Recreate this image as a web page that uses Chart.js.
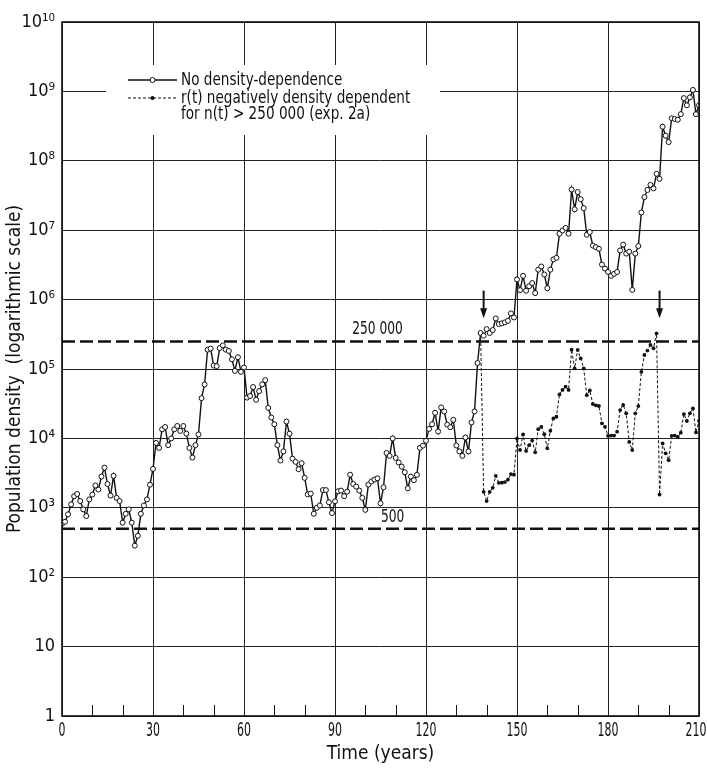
<!DOCTYPE html>
<html>
<head>
<meta charset="utf-8">
<script src="https://cdn.jsdelivr.net/npm/chart.js@4.4.1/dist/chart.umd.min.js"></script>
<style>
  html, body { margin: 0; padding: 0; background: #fff; }
  #wrap { width: 707px; height: 769px; position: relative; }
</style>
</head>
<body>
<div id="wrap"><canvas id="popChart"></canvas></div>
<script>
const FONT = "'DejaVu Sans Condensed', 'Liberation Sans Narrow', sans-serif";

// population density, one value per year, years 0..210 (no density-dependence)
const openDensity = [
  590, 630, 805, 1120, 1470, 1580, 1250, 950, 760, 1320,
  1550, 2100, 1830, 2820, 3790, 2200, 1500, 2890, 1390, 1250,
  610, 820, 950, 610, 285, 395, 820, 1080, 1320, 2150,
  3640, 8600, 7300, 13500, 14600, 8000, 10000, 13500, 15100, 12800,
  15100, 11700, 7300, 5300, 8000, 11400, 38000, 59800, 190000, 197000,
  112000, 110000, 200000, 219000, 190000, 182000, 138000, 94000, 148000, 91000,
  105000, 38700, 40800, 55000, 36000, 48000, 60000, 69000, 27500, 20000,
  16000, 8000, 4800, 6500, 17500, 11700, 5100, 4600, 3600, 4400,
  2700, 1560, 1600, 820, 1000, 1080, 1800, 1800, 1200, 840,
  1240, 1730, 1770, 1470, 1710, 3000, 2200, 2020, 1770, 1390,
  935, 2160, 2400, 2550, 2660, 1160, 1980, 6160, 5600, 10000,
  5240, 4500, 3920, 3250, 1910, 2820, 2500, 2980, 7300, 7860,
  9250, 13700, 16000, 23400, 12600, 28000, 24400, 15800, 14500, 18500,
  7900, 6500, 5600, 10300, 6500, 17000, 24500, 122000, 330000, 302000,
  376000, 330000, 364000, 535000, 444000, 455000, 470000, 495000, 633000, 553000,
  1950000, 1370000, 2200000, 1340000, 1560000, 1730000, 1240000, 2700000, 3000000, 2300000,
  1460000, 2700000, 3800000, 4000000, 8900000, 9900000, 10800000, 8900000, 38600000, 20000000,
  35500000, 28000000, 20800000, 8600000, 9400000, 6000000, 5700000, 5400000, 3200000, 2800000,
  2500000, 2200000, 2350000, 2500000, 5100000, 6200000, 4600000, 4900000, 1380000, 4600000,
  5900000, 18000000, 30000000, 38000000, 45000000, 40000000, 65000000, 55000000, 310000000, 230000000,
  186000000, 410000000, 400000000, 390000000, 470000000, 800000000, 630000000, 820000000, 1050000000, 470000000,
  630000000
];

// r(t) negatively density dependent, years 138..210 (first value shared with the open series)
const ddStartYear = 138;
const ddDensity = [
  330000, 1700, 1250, 1700, 1940, 2890, 2290, 2300, 2350, 2540, 3060, 3000,
  10000, 6800, 11400, 6600, 8000, 9300, 6300, 13600, 14700, 11500,
  7200, 12900, 19400, 20500, 43000, 50000, 55600, 50000, 190000, 102000,
  188000, 142000, 102000, 42000, 49000, 31300, 30000, 29300, 16500, 14700,
  10900, 11000, 11000, 12500, 25600, 30300, 23000, 8900, 6800, 23000,
  29200, 91000, 159000, 184000, 222000, 199000, 327000, 1550, 8500, 6100,
  4860, 10900, 11000, 10500, 12100, 22400, 17800, 23000, 27000, 12200, 17900
];

const xTicks = [0, 30, 60, 90, 120, 150, 180, 210];
const xMinorTicks = [10, 20, 40, 50, 70, 80, 100, 110, 130, 140, 160, 170, 190, 200];
const yTicks = [1, 10, 1e2, 1e3, 1e4, 1e5, 1e6, 1e7, 1e8, 1e9, 1e10];
const thresholds = [500, 250000];
const thresholdLabels = ['500', '250 000'];
const thresholdLabelYears = [109, 104];
const arrowYears = [139, 197];

const legendLines = [
  'No density-dependence',
  'r(t) negatively density dependent',
  'for n(t) > 250 000 (exp. 2a)'
];

const SUP = '⁰¹²³⁴⁵⁶⁷⁸⁹';
function decadeLabel(v) {
  const e = Math.round(Math.log10(v));
  if (e === 0) return '1';
  if (e === 1) return '10';
  return '10' + String(e).split('').map(d => SUP[+d]).join('');
}

// narrow text, the original lettering is much more condensed than any installed font
function narrowText(c, s, x, y, sx) {
  c.save();
  c.translate(x, y);
  c.scale(sx, 1);
  c.fillText(s, 0, 0);
  c.restore();
}

const extras = {
  id: 'extras',
  afterDatasetsDraw(chart) {
    const c = chart.ctx;
    const a = chart.chartArea;
    const xs = chart.scales.x, ys = chart.scales.y;
    c.save();

    // minor ticks on the time axis
    c.strokeStyle = '#111';
    c.lineWidth = 1;
    xMinorTicks.forEach(t => {
      const px = Math.round(xs.getPixelForValue(t)) + 0.5;
      c.beginPath();
      c.moveTo(px, a.bottom);
      c.lineTo(px, a.bottom - 11);
      c.stroke();
    });

    // time axis labels (kept inside the canvas at the right edge)
    c.fillStyle = '#111';
    c.font = '19px ' + FONT;
    c.textAlign = 'center';
    c.textBaseline = 'middle';
    const sx = 0.64;
    xTicks.forEach(t => {
      const s = String(t);
      const half = c.measureText(s).width * sx / 2;
      const px = Math.min(xs.getPixelForValue(t), chart.width - half - 0.5);
      narrowText(c, s, px, a.bottom + 15, sx);
    });

    // threshold labels
    c.font = '17px ' + FONT;
    c.textBaseline = 'bottom';
    thresholds.forEach((v, i) => {
      narrowText(c, thresholdLabels[i], xs.getPixelForValue(thresholdLabelYears[i]), ys.getPixelForValue(v) - 3, 0.8);
    });

    // arrows marking the reset years
    arrowYears.forEach(t => {
      const px = xs.getPixelForValue(t);
      const top = ys.getPixelForValue(1.35e6);
      const tip = ys.getPixelForValue(5.4e5);
      c.lineWidth = 2;
      c.beginPath();
      c.moveTo(px, top);
      c.lineTo(px, tip - 8);
      c.stroke();
      c.beginPath();
      c.moveTo(px - 3.5, tip - 10);
      c.lineTo(px + 3.5, tip - 10);
      c.lineTo(px, tip);
      c.closePath();
      c.fill();
    });

    // legend box
    const lx = a.left + 44, ly = a.top + 43;
    c.fillStyle = '#fff';
    c.fillRect(lx, ly, 334, 70);
    const sx0 = a.left + 66, sx1 = a.left + 115, tx = a.left + 119;
    const rows = [ly + 15, ly + 33, ly + 49];
    c.strokeStyle = '#111';
    c.lineWidth = 1.3;
    c.beginPath();
    c.moveTo(sx0, rows[0]); c.lineTo(sx1, rows[0]);
    c.stroke();
    c.beginPath();
    c.arc((sx0 + sx1) / 2, rows[0], 2.5, 0, Math.PI * 2);
    c.fillStyle = '#fff';
    c.fill();
    c.lineWidth = 1;
    c.stroke();
    c.setLineDash([3, 2]);
    c.beginPath();
    c.moveTo(sx0, rows[1]); c.lineTo(sx1, rows[1]);
    c.stroke();
    c.setLineDash([]);
    c.fillStyle = '#111';
    c.beginPath();
    c.arc((sx0 + sx1) / 2, rows[1], 2, 0, Math.PI * 2);
    c.fill();

    c.font = '18px ' + FONT;
    c.textAlign = 'left';
    c.textBaseline = 'middle';
    legendLines.forEach((s, i) => narrowText(c, s, tx, rows[i], 0.84));

    // frame
    c.lineWidth = 1.6;
    c.strokeStyle = '#111';
    c.strokeRect(a.left, a.top, a.right - a.left, a.bottom - a.top);
    c.restore();
  }
};

const ctx = document.getElementById('popChart').getContext('2d');
const chart = new Chart(ctx, {
  type: 'line',
  data: {
    datasets: [
      {
        label: legendLines[0],
        data: openDensity.map((v, i) => ({ x: i, y: v })),
        borderColor: '#111',
        borderWidth: 1.4,
        pointRadius: 2.5,
        pointBackgroundColor: '#fff',
        pointBorderColor: '#111',
        pointBorderWidth: 1,
        tension: 0,
        order: 1
      },
      {
        label: legendLines[1],
        data: ddDensity.map((v, i) => ({ x: ddStartYear + i, y: v })),
        borderColor: '#111',
        borderWidth: 1,
        borderDash: [3, 2],
        pointRadius: c => (c.dataIndex === 0 ? 0 : 1.9),
        pointBackgroundColor: '#111',
        pointBorderColor: '#111',
        pointBorderWidth: 0,
        tension: 0,
        order: 2
      },
      ...thresholds.map(v => ({
        label: 'n = ' + v,
        data: [{ x: 0, y: v }, { x: 210, y: v }],
        borderColor: '#111',
        borderWidth: 2.5,
        borderDash: [13, 5],
        pointRadius: 0,
        order: 3
      }))
    ]
  },
  options: {
    animation: false,
    responsive: true,
    maintainAspectRatio: false,
    devicePixelRatio: 1,
    layout: { padding: { top: 22, right: 8, left: 0, bottom: 0 } },
    plugins: { legend: { display: false }, tooltip: { enabled: false } },
    scales: {
      x: {
        type: 'linear',
        min: 0,
        max: 210,
        afterBuildTicks: s => { s.ticks = xTicks.map(v => ({ value: v })); },
        afterFit: s => { s.height = 53; s.paddingLeft = 0; s.paddingRight = 0; },
        ticks: { display: false },
        grid: { color: '#222', lineWidth: 1, drawTicks: false },
        border: { display: false },
        title: { display: true, text: 'Time (years)', color: '#111', font: { family: FONT, size: 19 }, padding: { top: 0, bottom: 4 } }
      },
      y: {
        type: 'logarithmic',
        min: 1,
        max: 1e10,
        afterBuildTicks: s => { s.ticks = yTicks.map(v => ({ value: v })); },
        afterFit: s => { s.width = 62; s.paddingTop = 0; s.paddingBottom = 0; },
        ticks: { color: '#111', font: { family: FONT, size: 18 }, padding: 7, callback: v => decadeLabel(v) },
        grid: { color: '#222', lineWidth: 1, drawTicks: false },
        border: { display: false },
        title: { display: true, text: 'Population density  (logarithmic scale)', color: '#111', font: { family: FONT, size: 19 }, padding: { top: 4, bottom: 0 } }
      }
    }
  },
  plugins: [extras]
});
</script>
</body>
</html>
